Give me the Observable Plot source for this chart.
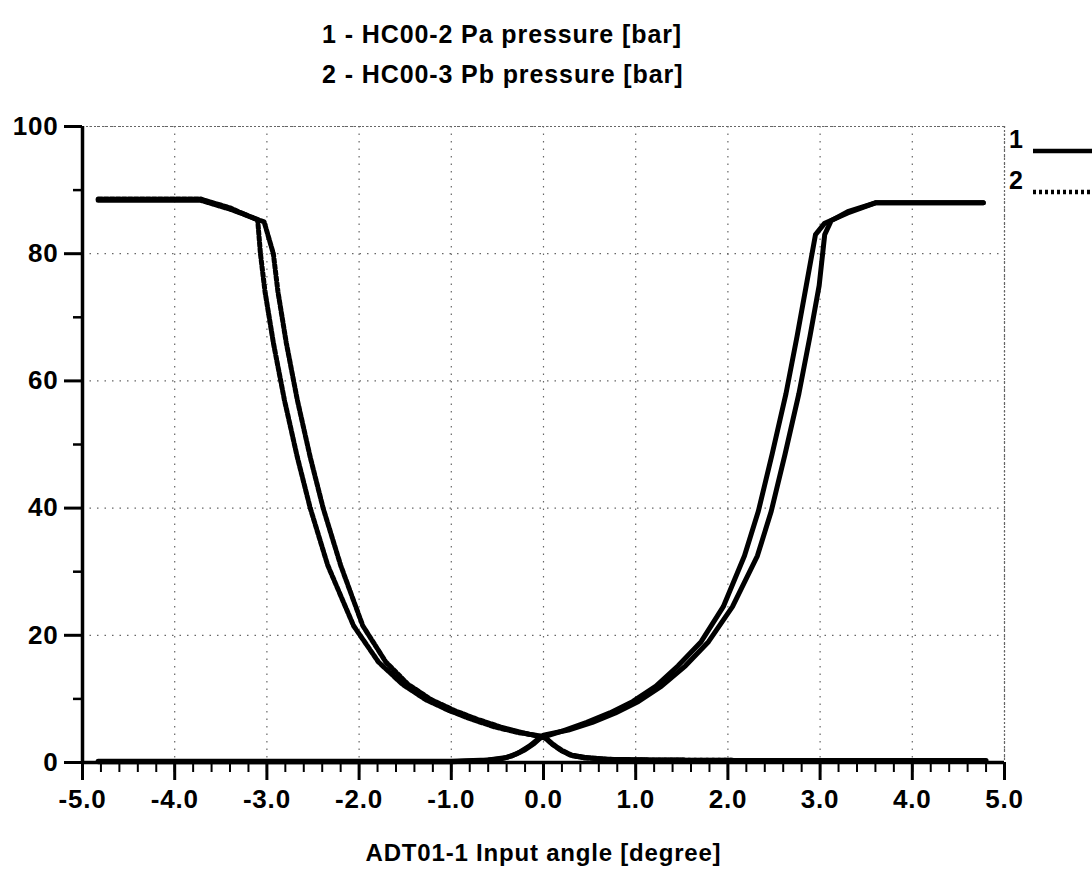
<!DOCTYPE html>
<html>
<head>
<meta charset="utf-8">
<script src="https://cdn.jsdelivr.net/npm/d3@7"></script>
<script src="https://cdn.jsdelivr.net/npm/@observablehq/plot@0.6"></script>
<style>
  body { margin: 0; background: #fff; font-family: "Liberation Sans", Arial, sans-serif; }
  #wrap { position: relative; width: 1092px; height: 874px; overflow: hidden; }
  .tl { position: absolute; left: 322px; font-weight: bold; font-size: 25px; line-height: 25px; letter-spacing: 0.9px; white-space: nowrap; color: #000; }
  #chart { position: absolute; left: 0; top: 95px; }
  #chart svg text { letter-spacing: 0.8px; }
  .lg { position: absolute; font-weight: bold; font-size: 25px; line-height: 25px; color: #000; }
  .lgline { position: absolute; }
</style>
</head>
<body>
<div id="wrap">
  <div id="titles"></div>
  <div id="chart"></div>
  <div id="legend"></div>
</div>
<script>
// ---- text ----
const seriesKeys = ["1", "2"];
const seriesTitles = ["1 - HC00-2 Pa pressure [bar]", "2 - HC00-3 Pb pressure [bar]"];
const xTitle = "ADT01-1 Input angle [degree]";

// ---- ticks ----
const xMajor = [-5, -4, -3, -2, -1, 0, 1, 2, 3, 4, 5];
const yMajor = [0, 20, 40, 60, 80, 100];
const yMinor = [10, 30, 50, 70, 90];

// ---- series 1: Pa, sweep up and sweep back ----
const paUpX = [-4.83, -1.0, -0.6, -0.4, -0.3, -0.2, -0.1, 0.0, 0.27, 0.53, 0.78, 1.03, 1.28, 1.54, 1.79, 2.05, 2.32, 2.47, 2.62, 2.77, 2.89, 2.99, 3.05, 3.12, 3.3, 3.6, 4.77];
const paUpY = [0.2, 0.2, 0.4, 0.8, 1.3, 2.0, 3.0, 4.3, 5.1, 6.3, 7.8, 9.6, 12.0, 15.2, 19.0, 24.5, 32.5, 39.5, 48.5, 58.0, 67.0, 75.0, 83.0, 85.2, 86.6, 88.0, 88.0];
const paDnX = [4.77, 3.6, 3.3, 3.05, 2.95, 2.85, 2.75, 2.63, 2.48, 2.33, 2.18, 1.95, 1.71, 1.46, 1.22, 0.97, 0.72, 0.47, 0.22, -0.05, -0.15, -0.25, -0.35, -0.45, -0.65, -1.0, -4.83];
const paDnY = [88.0, 88.0, 86.4, 84.8, 83.0, 75.0, 67.0, 58.0, 48.5, 39.5, 32.5, 24.5, 19.0, 15.2, 12.0, 9.6, 7.8, 6.3, 5.0, 3.8, 2.6, 1.7, 1.0, 0.6, 0.3, 0.1, 0.1];

// ---- series 2: Pb, sweep up and sweep back ----
const pbUpX = [-4.83, -3.72, -3.4, -3.1, -3.07, -3.02, -2.93, -2.81, -2.67, -2.53, -2.34, -2.06, -1.79, -1.53, -1.28, -1.03, -0.78, -0.53, -0.27, 0.0, 0.1, 0.2, 0.3, 0.45, 0.7, 1.2, 2.5, 4.8];
const pbUpY = [88.6, 88.6, 87.2, 85.3, 80.0, 74.0, 66.0, 57.0, 48.0, 40.0, 31.0, 21.5, 15.8, 12.3, 9.9, 8.2, 6.8, 5.6, 4.7, 4.1, 2.8, 1.8, 1.1, 0.7, 0.5, 0.4, 0.3, 0.3];
const pbDnX = [4.8, 2.5, 1.2, 0.7, 0.45, 0.3, 0.2, 0.1, 0.03, -0.23, -0.47, -0.72, -0.97, -1.22, -1.47, -1.71, -1.96, -2.2, -2.39, -2.53, -2.67, -2.79, -2.88, -2.93, -3.03, -3.4, -3.72, -4.83];
const pbDnY = [0.3, 0.3, 0.4, 0.5, 0.8, 1.2, 1.9, 2.9, 3.8, 4.7, 5.6, 6.8, 8.2, 9.9, 12.3, 15.8, 21.5, 31.0, 40.0, 48.0, 57.0, 66.0, 74.0, 80.0, 85.0, 87.0, 88.4, 88.4];

// ---- build table ----
function rowsOf(series, branch, xs, ys) {
  return xs.map((x, i) => ({ series, key: series + "-" + branch, x, y: ys[i] }));
}
const rows = [
  ...rowsOf("1", "up", paUpX, paUpY),
  ...rowsOf("1", "dn", paDnX, paDnY),
  ...rowsOf("2", "up", pbUpX, pbUpY),
  ...rowsOf("2", "dn", pbDnX, pbDnY)
];

const xMinor = d3.range(-50, 51, 2).map(v => v / 10);
const dashes = { "1": null, "2": "4,2" };
const legendDashes = { "1": null, "2": "3,3" };

// ---- titles ----
const titles = document.getElementById("titles");
seriesTitles.forEach((t, i) => {
  const d = document.createElement("div");
  d.className = "tl";
  d.style.top = (22 + i * 40) + "px";
  d.textContent = t;
  titles.appendChild(d);
});

// ---- chart ----
const gridStyle = { stroke: "#666", strokeOpacity: 1, strokeWidth: 1.2, strokeDasharray: "1.5,6" };
const chart = Plot.plot({
  width: 1092,
  height: 779,
  marginLeft: 82,
  marginRight: 88,
  marginTop: 31,
  marginBottom: 112,
  style: { fontFamily: "Liberation Sans, Arial, sans-serif", fontSize: "26px", fontWeight: "bold", background: "#fff", color: "#000" },
  x: { domain: [-5, 5] },
  y: { domain: [0, 100] },
  marks: [
    Plot.gridX(xMajor, gridStyle),
    Plot.gridY(yMajor, gridStyle),
    Plot.ruleY([100], { stroke: "#666", strokeWidth: 1.2, strokeDasharray: "2,2" }),
    Plot.ruleX([5], { stroke: "#666", strokeWidth: 1.2, strokeDasharray: "2,2" }),
    ...seriesKeys.map(k => Plot.line(rows.filter(r => r.series === k), {
      x: "x", y: "y", z: "key", stroke: "#000", strokeWidth: 5,
      strokeDasharray: dashes[k], strokeLinejoin: "round"
    })),
    Plot.ruleX([-5], { stroke: "#000", strokeWidth: 3.5 }),
    Plot.ruleY([0], { stroke: "#000", strokeWidth: 3.5 }),
    Plot.axisY({ ticks: yMajor, tickSize: 18, tickPadding: 6, tickFormat: d => String(d), strokeWidth: 3, label: null, fontSize: 26, fontWeight: "bold" }),
    Plot.axisY({ ticks: yMinor, tickSize: 9, text: null, strokeWidth: 2.5, label: null }),
    Plot.axisX({ ticks: xMajor, tickSize: 18, tickPadding: 9, tickFormat: d => d.toFixed(1), strokeWidth: 3, label: null, fontSize: 26, fontWeight: "bold" }),
    Plot.axisX({ ticks: xMinor, tickSize: 10, text: null, strokeWidth: 2, label: null }),
    Plot.text([xTitle], { text: d => d, frameAnchor: "bottom", dy: 91, fontSize: 24, fontWeight: "bold", lineAnchor: "middle" })
  ]
});
document.getElementById("chart").appendChild(chart);

// ---- legend ----
const legend = document.getElementById("legend");
seriesKeys.forEach((k, i) => {
  const lab = document.createElement("div");
  lab.className = "lg";
  lab.style.left = "1009px";
  lab.style.top = (127 + i * 41) + "px";
  lab.textContent = k;
  legend.appendChild(lab);
  const ns = "http://www.w3.org/2000/svg";
  const s = document.createElementNS(ns, "svg");
  s.setAttribute("class", "lgline");
  s.setAttribute("width", "60");
  s.setAttribute("height", "10");
  s.style.left = "1033px";
  s.style.top = (146 + i * 41) + "px";
  const ln = document.createElementNS(ns, "line");
  ln.setAttribute("x1", "0"); ln.setAttribute("x2", "60");
  ln.setAttribute("y1", "5"); ln.setAttribute("y2", "5");
  ln.setAttribute("stroke", "#000");
  ln.setAttribute("stroke-width", "4.5");
  if (legendDashes[k]) ln.setAttribute("stroke-dasharray", legendDashes[k]);
  s.appendChild(ln);
  legend.appendChild(s);
});
</script>
</body>
</html>
